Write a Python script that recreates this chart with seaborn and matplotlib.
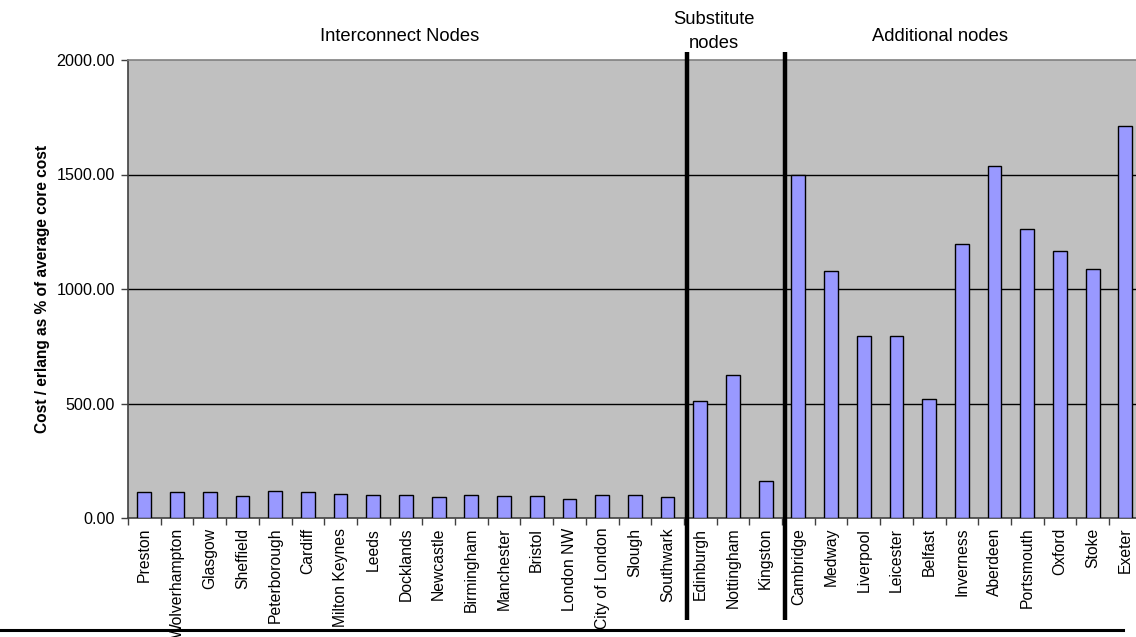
import matplotlib
matplotlib.use("Agg")
import matplotlib.pyplot as plt
import matplotlib.transforms as mtransforms
from matplotlib.ticker import FixedLocator, FormatStrFormatter
import seaborn as sns
import pandas as pd

interconnect_nodes = ["Preston", "Wolverhampton", "Glasgow", "Sheffield", "Peterborough",
                      "Cardiff", "Milton Keynes", "Leeds", "Docklands", "Newcastle",
                      "Birmingham", "Manchester", "Bristol", "London NW", "City of London",
                      "Slough", "Southwark"]
interconnect_values = [115, 112, 112, 97, 119, 112, 103, 102, 100, 90, 99, 97, 96, 84, 100, 100, 90]

substitute_nodes = ["Edinburgh", "Nottingham", "Kingston"]
substitute_values = [513, 625, 163]

additional_nodes = ["Cambridge", "Medway", "Liverpool", "Leicester", "Belfast", "Inverness",
                    "Aberdeen", "Portsmouth", "Oxford", "Stoke", "Exeter"]
additional_values = [1497, 1078, 796, 793, 520, 1195, 1536, 1264, 1166, 1087, 1710]

group_titles = ["Interconnect Nodes", "Substitute", "nodes", "Additional nodes"]
y_label = "Cost / erlang as % of average core cost"
y_ticks = [0, 500, 1000, 1500, 2000]

categories = interconnect_nodes + substitute_nodes + additional_nodes
values = interconnect_values + substitute_values + additional_values
df = pd.DataFrame({"node": categories, "value": values})

plt.rcParams["font.family"] = ["Liberation Sans", "DejaVu Sans"]

fig = plt.figure(figsize=(11.36, 6.37), dpi=100)
W, H = 1136, 637
ax = fig.add_axes([128 / W, (H - 518) / H, (31 * 32.7) / W, 458 / H])
ax.set_facecolor("#C0C0C0")

sns.barplot(data=df, x="node", y="value", color="#9999FF", saturation=1,
            edgecolor="black", linewidth=1.0, width=0.42, ax=ax, zorder=3)

n = len(categories)
ax.set_xlim(-0.5, n - 0.5)
ax.set_ylim(0, 2000)
ax.set_yticks(y_ticks)
ax.yaxis.set_major_formatter(FormatStrFormatter("%.2f"))
ax.tick_params(axis="y", length=5, width=1, color="#404040", pad=4.5, labelsize=11.6)

ax.set_xticks(range(n))
ax.set_xticklabels(categories, rotation=90, va="top", ha="center")
ax.tick_params(axis="x", which="major", length=0, pad=7, labelsize=11.3)
ax.xaxis.set_minor_locator(FixedLocator([i + 0.5 for i in range(-1, n)]))
ax.tick_params(axis="x", which="minor", length=5, width=1, color="#404040")

ax.set_xlabel("")
ax.set_ylabel(y_label, fontsize=11.2, fontweight="bold")
ax.yaxis.set_label_coords(-0.077, 0.5)

for yv in y_ticks[1:4]:
    ax.axhline(yv, color="black", lw=1, zorder=1)

for side in ["left", "bottom"]:
    ax.spines[side].set_color("#404040")
    ax.spines[side].set_linewidth(1.2)
ax.spines["top"].set_color("#808080")
ax.spines["top"].set_linewidth(1.2)
ax.spines["right"].set_visible(False)

trans = mtransforms.blended_transform_factory(ax.transData, ax.transAxes)
for xb in [16.58, 19.58]:
    ax.plot([xb, xb], [-0.2227, 1.0175], transform=trans, color="black", lw=3.2,
            clip_on=False, zorder=6, solid_capstyle="butt")

ax.text(7.82, 1.052, group_titles[0], transform=trans, ha="center", va="center", fontsize=13.2)
ax.text(17.42, (518 - 20) / 458, group_titles[1], transform=trans, ha="center", va="center", fontsize=13.2)
ax.text(17.42, (518 - 43) / 458, group_titles[2], transform=trans, ha="center", va="center", fontsize=13.2)
ax.text(24.33, 1.052, group_titles[3], transform=trans, ha="center", va="center", fontsize=13.2)

fig.add_artist(plt.Line2D([0, 1123 / W], [(H - 629.5) / H] * 2, color="black", lw=2.2,
                          transform=fig.transFigure, zorder=10))

fig.savefig("out.png", dpi=100)
